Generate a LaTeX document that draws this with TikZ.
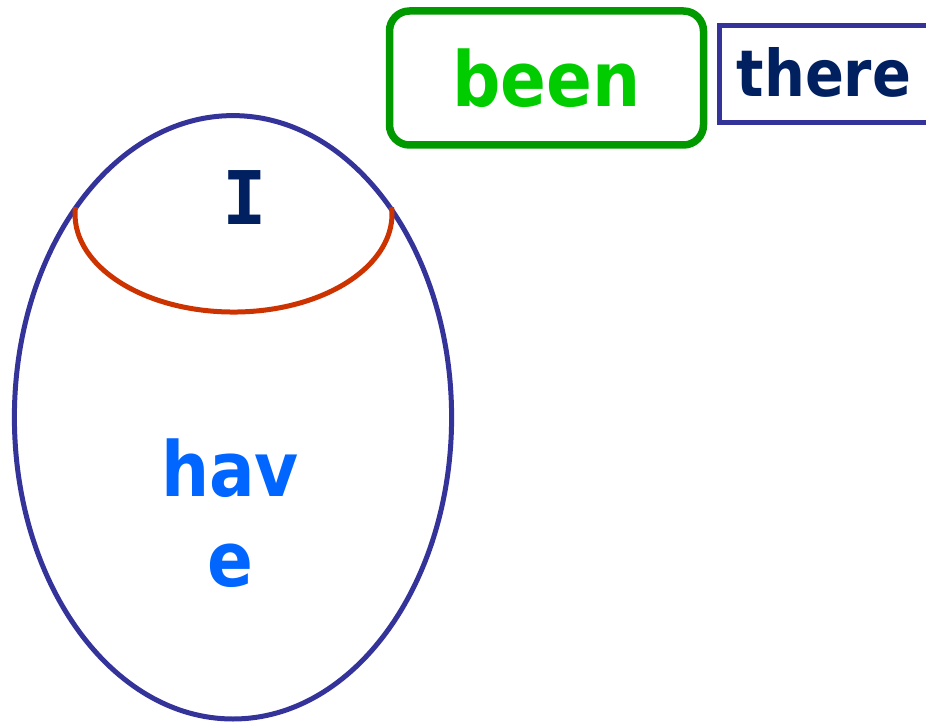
\documentclass[tikz,border=0pt]{standalone}
\usepackage{fontspec}
\newfontfamily\lblfont{DejaVu Sans}[FakeStretch=0.89]
\newfontfamily\serifmono{DejaVu Sans Mono}
\definecolor{ellblue}{HTML}{333399}
\definecolor{redarc}{HTML}{CC3300}
\definecolor{boxgreen}{HTML}{009900}
\definecolor{txtgreen}{HTML}{00CC00}
\definecolor{navy}{HTML}{002060}
\definecolor{txtblue}{HTML}{0066FF}
\tikzset{
  bigword/.style={font=\lblfont\bfseries\fontsize{76}{90}\selectfont, inner sep=0pt},
  outline/.style={draw=ellblue, line width=5pt},
}
\begin{document}
\begin{tikzpicture}[x=1pt,y=-1pt]
\clip (0,0) rectangle (926,722);
\fill[white] (0,0) rectangle (926,722);
% egg
\draw[outline] (233,417.3) ellipse [x radius=218.6, y radius=301.7];
\draw[redarc, line width=5pt] (75.4,207.2) arc[start angle=184, end angle=-4, x radius=158.5, y radius=98];
% words
\node[font=\serifmono\bfseries\fontsize{74}{74}\selectfont, text=navy, inner sep=0pt, anchor=base] (I) at (245,225) {I};
\node[bigword, text=txtblue, align=center, anchor=base] (have) at (230,586) {hav\\e};
\node[bigword, text=txtgreen, draw=boxgreen, line width=7.5pt, rounded corners=20pt,
      minimum width=314pt, minimum height=134pt] (been) at (546.5,78) {been};
\node[font=\lblfont\bfseries\fontsize{64.5}{70}\selectfont, text=navy, outline, inner sep=0pt,
      text depth=5pt, minimum width=210pt, minimum height=97pt] (there) at (824,74) {there};
\end{tikzpicture}
\end{document}
